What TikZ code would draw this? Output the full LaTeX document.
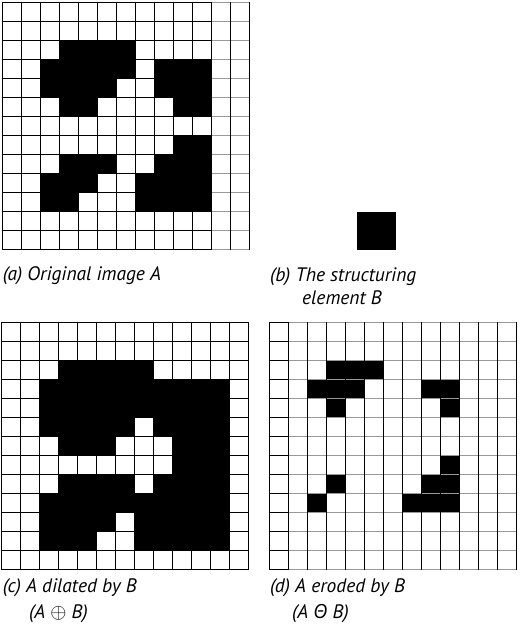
\documentclass[tikz,border=0pt]{standalone}
\usepackage{fontspec}
\newfontfamily\capfamily{PT Sans}
\newfontfamily\greekfamily{Open Sans}

\begin{document}
\begin{tikzpicture}[x=1pt, y=-1pt,
  cell/.style={fill=black},
  rule/.style={line width=1.1pt, line cap=rect},
  faint/.style={line width=0.6pt, draw=black!40},
  captext/.style={anchor=base west, inner sep=0pt,
              font=\capfamily\itshape\fontsize{19.5}{22}\selectfont}
]
  \useasboundingbox (0,0) rectangle (520,632);

  %-- (a) Original image A
  \begin{scope}[shift={(2.7,2.7)}]
    \foreach \r/\cs in {2/{3,4,5,6}, 3/{2,3,4,5,6,8,9,10}, 4/{2,3,4,5,8,9,10},
                        5/{3,4,9,10}, 7/{9,10}, 8/{3,4,5,8,9,10},
                        9/{2,3,4,7,8,9,10}, 10/{2,3,7,8,9,10}}
      \foreach \c in \cs
        \fill[cell] (19*\c, 19*\r) rectangle ++(19,19);
    \foreach \i in {0,...,13} {
      \draw[faint] (209, 19*\i) -- (247, 19*\i);
      \draw[rule]  (0, 19*\i)   -- (209, 19*\i);
    }
    \foreach \i in {0,...,13}
      \draw[rule] (19*\i, 0) -- (19*\i, 247);
  \end{scope}

  %-- (b) The structuring element B
  \fill[cell] (356.7,211.7) rectangle (395.7,250);

  %-- (c) A dilated by B
  \begin{scope}[shift={(1.7,322.7)}]
    \foreach \r/\cs in {2/{3,4,5,6,7}, 3/{2,3,4,5,6,7,8,9,10,11},
                        4/{2,3,4,5,6,7,8,9,10,11}, 5/{2,3,4,5,6,8,9,10,11},
                        6/{3,4,5,9,10,11}, 7/{9,10,11}, 8/{3,4,5,6,8,9,10,11},
                        9/{2,3,4,5,6,7,8,9,10,11}, 10/{2,3,4,5,7,8,9,10,11},
                        11/{2,3,4,7,8,9,10,11}}
      \foreach \c in \cs
        \fill[cell] (19*\c, 19*\r) rectangle ++(19,19);
    \foreach \i in {0,...,13} {
      \draw[rule] (0, 19*\i) -- (247, 19*\i);
      \draw[rule] (19*\i, 0) -- (19*\i, 247);
    }
  \end{scope}

  %-- (d) A eroded by B
  \begin{scope}[shift={(269.3,322.7)}]
    \foreach \r/\cs in {2/{3,4,5}, 3/{2,3,4,8,9}, 4/{3,9}, 7/{9},
                        8/{3,8,9}, 9/{2,7,8,9}}
      \foreach \c in \cs
        \fill[cell] (19*\c, 19*\r) rectangle ++(19,19);
    \foreach \i in {0,...,13} {
      \draw[faint] (19, 19*\i) -- (247, 19*\i);
      \draw[rule]  (0, 19*\i)  -- (19, 19*\i);
    }
    \foreach \i in {0,...,13}
      \draw[rule] (19*\i, 0) -- (19*\i, 247);
  \end{scope}

  %-- Captions
  \node[captext] (capa)  at (2.7, 280.5) {(a) Original image A};
  \node[captext] (capb)  at (270, 281)   {(b) The structuring};
  \node[captext] (capb2) at (302, 304.5) {element B};
  \node[captext] (capc)  at (2.7, 592.5) {(c) A dilated by B};
  \node[captext] (capc2) at (29, 618)    {(A $\oplus$ B)};
  \node[captext] (capd)  at (270, 592.5) {(d) A eroded by B};
  \node[captext] (capd2) at (292, 618)   {(A {\greekfamily\itshape Θ} B)};
\end{tikzpicture}
\end{document}
